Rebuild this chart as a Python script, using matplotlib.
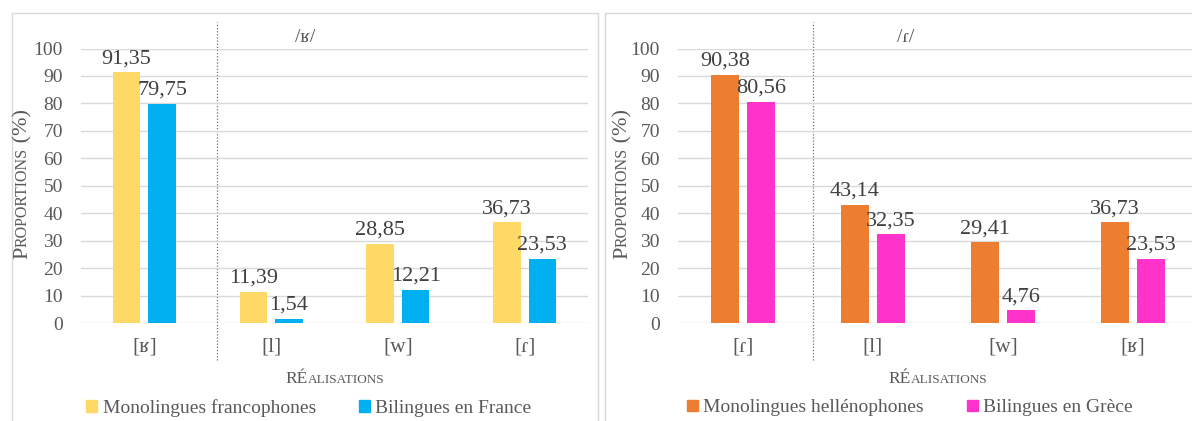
import numpy as np
import matplotlib.pyplot as plt
from matplotlib.patches import Rectangle

# données
cats_fr = ['[ʁ]', '[l]', '[w]', '[ɾ]']
mono_fr = [91.35, 11.39, 28.85, 36.73]
bil_fr = [79.75, 1.54, 12.21, 23.53]

cats_gr = ['[ɾ]', '[l]', '[w]', '[ʁ]']
mono_gr = [90.38, 43.14, 29.41, 36.73]
bil_gr = [80.56, 32.35, 4.76, 23.53]

labels_fr = ['Monolingues francophones', 'Bilingues en France']
labels_gr = ['Monolingues hellénophones', 'Bilingues en Grèce']
titles = ['/ʁ/', '/ɾ/']

plt.rcParams['font.family'] = ['Liberation Serif', 'DejaVu Serif']
W, H = 1192, 421
fig = plt.figure(figsize=(W / 100, H / 100), dpi=100)

GRAY = '#595959'
DARK = '#404040'


def px(x, y):
    # pixels (origine en haut à gauche) -> fraction de figure
    return x / W, (H - y) / H


def small_caps(x, y, parts, rotation=0):
    # parts : liste de (texte, taille), centré en (x, y) pixels, aligné sur la ligne de base
    r = fig.canvas.get_renderer()
    widths = []
    for s, size in parts:
        t = fig.text(0, 0, s, size=size)
        widths.append(t.get_window_extent(r).width)
        t.remove()
    total = sum(widths)
    pos = -total / 2
    for (s, size), w in zip(parts, widths):
        if rotation == 0:
            xx, yy = px(x + pos, y)
        else:
            xx, yy = px(x, y - pos)
        fig.text(xx, yy, s, size=size, color=GRAY, rotation=rotation,
                 rotation_mode='anchor', ha='left', va='baseline')
        pos += w


def panel(rect, cats, mono, bil, c1, c2, labels, title, div_x, title_x, leg_x, xcenter):
    ax = fig.add_axes(rect)
    x = np.arange(len(cats))
    w = 0.217
    b1 = ax.bar(x - 0.14, mono, w, color=c1, zorder=3)
    b2 = ax.bar(x + 0.14, bil, w, color=c2, zorder=3)
    for bars, vals in ((b1, mono), (b2, bil)):
        for bar, v in zip(bars, vals):
            ax.annotate(('%.2f' % v).replace('.', ','),
                        (bar.get_x() + bar.get_width() / 2, v),
                        xytext=(0, 3), textcoords='offset points',
                        ha='center', va='bottom', size=16, color=DARK,
                        annotation_clip=False)
    ax.set_xlim(-0.5, 3.5)
    ax.set_ylim(0, 100)
    ax.set_yticks(range(0, 101, 10))
    ax.set_xticks(x)
    ax.set_xticklabels(cats)
    ax.grid(axis='y', color='#D9D9D9', lw=1, zorder=0)
    for s in ax.spines.values():
        s.set_visible(False)
    ax.tick_params(axis='y', length=0, pad=13, labelsize=14, labelcolor=GRAY)
    ax.tick_params(axis='x', length=0, pad=10, labelsize=15.5, labelcolor=GRAY)
    ax.axvline(div_x, ymin=-0.134, ymax=1.096, color='#6F6F6F', lw=0.9,
               ls=(0, (1, 1.5)), clip_on=False, zorder=1)
    ax.text(title_x, 101, title, ha='center', va='bottom', size=14, color=GRAY)
    h = [Rectangle((0, 0), 1, 1, color=c1), Rectangle((0, 0), 1, 1, color=c2)]
    ax.legend(h, labels, loc='center', bbox_to_anchor=px(leg_x, 408),
              bbox_transform=fig.transFigure, ncol=2, frameon=False,
              fontsize=14, labelcolor=GRAY, handlelength=0.55, handleheight=0.55,
              handletextpad=0.3, columnspacing=2.2, borderpad=0)
    small_caps(xcenter, 383, [('RÉ', 12.5), ('ALISATIONS', 9.5)])
    return ax


bottom = (H - 323.3) / H
height = 274.8 / H
panel([81 / W, bottom, 507 / W, height], cats_fr, mono_fr, bil_fr,
      '#FFD966', '#00B0F0', labels_fr, titles[0], 0.57, 1.27, 309, 335)
panel([678 / W, bottom, 520 / W, height], cats_gr, mono_gr, bil_gr,
      '#ED7D31', '#FF33CC', labels_gr, titles[1], 0.54, 1.25, 910, 938)

small_caps(27, 184, [('P', 16), ('ROPORTIONS', 11.5), (' (%)', 16)], rotation=90)
small_caps(627, 184, [('P', 16), ('ROPORTIONS', 11.5), (' (%)', 16)], rotation=90)

for x0, x1 in ((12, 598), (605, 1200)):
    fig.patches.append(Rectangle(px(x0, 430), (x1 - x0) / W, (430 - 13) / H,
                                 transform=fig.transFigure, fill=False,
                                 ec='#D9D9D9', lw=1))

fig.savefig('out.png', dpi=100)
